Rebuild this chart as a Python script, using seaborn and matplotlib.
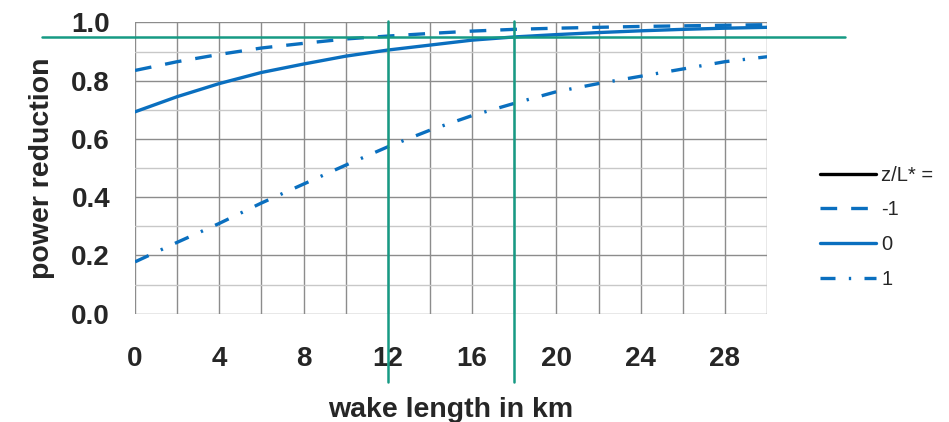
import numpy as np
import pandas as pd
import matplotlib
matplotlib.use("Agg")
import matplotlib.pyplot as plt
from matplotlib.lines import Line2D
import seaborn as sns

# ---- data ----
wake_km = [0, 2, 4, 6, 8, 10, 12, 14, 16, 18, 20, 22, 24, 26, 28, 30]
stab_labels = ["-1", "0", "1"]
red_unstable = [0.835, 0.865, 0.89, 0.912, 0.928, 0.943, 0.953, 0.962,
                0.97, 0.976, 0.98, 0.983, 0.986, 0.988, 0.99, 0.992]
red_neutral = [0.693, 0.745, 0.79, 0.828, 0.857, 0.884, 0.905, 0.922,
               0.939, 0.95, 0.958, 0.965, 0.971, 0.976, 0.98, 0.983]
red_stable = [0.178, 0.245, 0.31, 0.38, 0.445, 0.51, 0.573, 0.63,
              0.68, 0.722, 0.762, 0.79, 0.815, 0.84, 0.865, 0.882]
threshold = 0.95
marked_km = [12, 18]

df = pd.DataFrame({
    "wake": wake_km * 3,
    "red": red_unstable + red_neutral + red_stable,
    "zL": np.repeat(stab_labels, len(wake_km)),
})

sns.set_theme(style="white")
plt.rcParams["font.family"] = ["Liberation Sans", "DejaVu Sans"]

blue = "#0a6fbf"
green = "#169a84"
dash_map = {"-1": (5, 4.2), "0": "", "1": (4.5, 4, 0.7, 4)}

fig = plt.figure(figsize=(9.49, 4.22), dpi=100)
ax = fig.add_axes([0.1423, 0.2566, 0.666, 0.6904])

sns.lineplot(data=df, x="wake", y="red", style="zL", dashes=dash_map,
             color=blue, linewidth=2.4, legend=False, ax=ax,
             style_order=stab_labels)

ax.set_xlim(0, 30)
ax.set_ylim(0, 1.0)
ax.set_xticks(np.arange(0, 31, 2))
ax.set_xticklabels([str(v) if v % 4 == 0 else "" for v in range(0, 31, 2)])
ax.set_yticks(np.arange(0, 1.01, 0.2))
ax.set_yticklabels([f"{v:.1f}" for v in np.arange(0, 1.01, 0.2)])
ax.set_yticks(np.arange(0.1, 1.0, 0.2), minor=True)

ax.grid(True, which="major", color="#8c8c8c", linewidth=1.0)
ax.grid(True, which="minor", axis="y", color="#c8c8c8", linewidth=1.0)
ax.set_axisbelow(True)
for s in ax.spines.values():
    s.set_visible(False)

ax.tick_params(axis="x", which="major", direction="out", length=7.5,
               width=1.0, color="#8c8c8c", pad=16, labelsize=20)
ax.tick_params(axis="y", which="major", direction="out", length=6,
               width=1.0, color="#8c8c8c", pad=12, labelsize=20)
ax.tick_params(axis="y", which="minor", length=0)
for lab in ax.get_xticklabels() + ax.get_yticklabels():
    lab.set_fontweight("bold")

ax.set_xlabel("wake length in km", fontsize=20.5, fontweight="bold",
              labelpad=18)
ax.set_ylabel("power reduction", fontsize=20.5, fontweight="bold",
              labelpad=12)

# green reference lines reaching past the axes
ax.plot([-4.4, 33.7], [threshold, threshold], color=green, linewidth=1.8,
        clip_on=False, zorder=5)
for km in marked_km:
    ax.plot([km, km], [-0.235, 1.003], color=green, linewidth=1.8,
            clip_on=False, zorder=5)

# legend
handles = [Line2D([], [], color="black", linewidth=2.4)]
for lab in stab_labels:
    h = Line2D([], [], color=blue, linewidth=2.4)
    if dash_map[lab]:
        h.set_dashes(dash_map[lab])
    handles.append(h)
labels = ["z/L* ="] + stab_labels
fig.legend(handles, labels, loc="upper left",
           bbox_to_anchor=(0.849, 0.641), frameon=False,
           fontsize=14.5, handlelength=2.8, handletextpad=0.25,
           labelspacing=0.78, borderpad=0.2)

fig.savefig("out.png", dpi=100)
